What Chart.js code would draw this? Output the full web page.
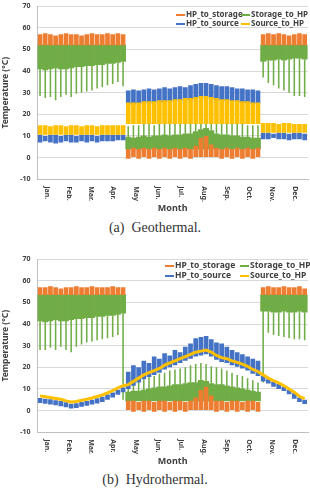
<!DOCTYPE html>
<html>
<head>
<meta charset="utf-8">
<script src="https://cdn.jsdelivr.net/npm/chart.js@4.4.0/dist/chart.umd.min.js"></script>
<style>
  body { margin: 0; background: #fff; width: 310px; height: 489px; overflow: hidden; position: relative; }
  canvas { position: absolute; left: 0; }
  .cap { position: absolute; left: 0; width: 310px; text-align: center; font-family: "Liberation Serif", "DejaVu Serif", serif; font-size: 14px; color: #333; line-height: 16px; }
</style>
</head>
<body>
<canvas id="geo" width="310" height="219" style="top:-5px"></canvas>
<div class="cap" style="top:220px">(a)&nbsp;&nbsp;Geothermal.</div>
<canvas id="hyd" width="310" height="219" style="top:248px"></canvas>
<div class="cap" style="top:472px">(b)&nbsp;&nbsp;Hydrothermal.</div>
<script>
// x axis: months, values are read per week (52 weeks, day = week*7 + 3.5)
var MONTHS = ['Jan.', 'Feb.', 'Mar.', 'Apr.', 'May', 'Jun.', 'Jul.', 'Aug.', 'Sep.', 'Oct.', 'Nov.', 'Dec.'];
var MONTH_MID_DAYS = [15.5, 45, 74.5, 105, 135.5, 166, 196.5, 227.5, 258, 288.5, 319, 349.5];
var Y_TICKS = [-10, 0, 10, 20, 30, 40, 50, 60, 70];
var SERIES = ['HP_to_storage', 'Storage_to_HP', 'HP_to_source', 'Source_to_HP'];
var COLORS = ['#ED7D31', '#70AD47', '#4472C4', '#FFC000'];

// weeks 0-16 heating, 17-42 cooling, 43-51 heating
// (a) Geothermal
var geoStorageHi = [57, 57.5, 57, 56.5, 57, 57.5, 57, 57, 56.5, 57, 57.5, 57, 57, 57.5, 57, 57.5, 57,
  4, 4.5, 4, 4.5, 4, 4.5, 4, 4.5, 4, 4.5, 4, 4.5, 4, 5.5, 9, 10, 6, 4.5, 4, 4.5, 4, 4.5, 4, 4.5, 4, 4.5,
  57, 57.5, 57, 57.5, 57, 56.5, 57, 57.5, 57];
var geoStorageLo = [52, 52, 52, 52, 52, 52, 52, 52, 52, 52, 52, 52, 52, 52, 52, 52, 52,
  -0.5, 0, -0.5, 0, -0.5, 0, -0.5, 0, -0.5, 0, -0.5, 0, -0.5, 0, 0, 0, 0, 0, -0.5, 0, -0.5, 0, -0.5, 0, -0.5, 0,
  52, 52, 52, 52, 52, 52, 52, 52, 52];
var geoReturnHi = [52, 52, 52, 52, 52, 52, 52, 52, 52, 52, 52, 52, 52, 52, 52, 52, 52,
  9.5, 9, 9.5, 10, 9.5, 10, 10, 10.5, 10, 10.5, 10.5, 11, 11, 12, 13, 13.5, 12.5, 11, 10.5, 10.5, 10, 10, 9.5, 9.5, 9, 9,
  52, 52, 52, 52, 52, 52, 52, 52, 52];
var geoReturnLo = [41, 40.5, 41, 41.5, 41, 41, 41.5, 42, 42, 42.5, 42.5, 43, 43, 43.5, 43.5, 44, 44.5,
  4, 4, 4, 4, 4, 4, 4, 4, 4, 4, 4, 4, 4, 4, 4, 4, 4, 4, 4, 4, 4, 4, 4, 4, 4, 4,
  44.5, 45, 45, 45.5, 45, 45.5, 46, 46, 45.5];
// weekly dips (heating) / peaks (cooling) of Storage_to_HP
var geoReturnSpike = [28.5, 27.5, 28, 26.5, 28, 29, 28, 29.5, 30, 30.5, 31, 32, 32.5, 33.5, 34, 35, 33,
  14.5, 15, 15, 15.5, 15.5, 15, 15.5, 16, 15.5, 16, 16, 16, 16.5, 16.5, 17, 17, 16.5, 16, 16, 15.5, 16, 15.5, 15.5, 15, 15, 15,
  37, 34.5, 33.5, 32, 31, 30, 28.5, 28.5, 28];
var geoSourceOutHi = [10.5, 10, 10.5, 10.5, 10, 10.5, 10.5, 10, 10.5, 10.5, 10.5, 10, 10.5, 10.5, 10.5, 10.5, 10.5,
  31, 31.5, 31, 31.5, 32, 31.5, 32, 32.5, 32, 32.5, 33, 32.5, 33.5, 34, 34.5, 34.5, 34, 33.5, 33, 33, 32.5, 32, 32, 31.5, 31.5, 31,
  11.5, 11.5, 11, 11.5, 11.5, 11, 11.5, 11.5, 11];
var geoSourceOutLo = [7, 7.5, 7, 6.5, 7, 7.5, 7, 7, 7.5, 7, 7.5, 7, 7.5, 7.5, 7.5, 8, 8,
  24.5, 24.5, 25, 25, 25, 25.5, 25.5, 25.5, 26, 26, 26, 26.5, 26.5, 27, 27.5, 27.5, 27, 26.5, 26.5, 26, 26, 25.5, 25.5, 25, 25, 24.5,
  8.5, 8.5, 9, 8.5, 8.5, 8, 8.5, 8.5, 8];
var geoSourceInHi = [15, 15, 14.5, 15, 15, 14.5, 15, 15, 14.5, 15, 15, 14.5, 15, 15, 15, 15, 15,
  25.5, 25.5, 25.5, 26, 26, 26, 26.5, 26.5, 26.5, 27, 27, 27.5, 27.5, 28, 28.5, 28.5, 28, 27.5, 27, 27, 26.5, 26.5, 26, 26, 25.5, 25.5,
  16, 16, 16, 15.5, 16, 16, 15.5, 15.5, 15.5];
var geoSourceInLo = [10.5, 10.5, 10.5, 10.5, 10.5, 10.5, 10.5, 10.5, 10.5, 10.5, 10.5, 10.5, 10.5, 10.5, 10.5, 10.5, 10.5,
  15.5, 15.5, 15.5, 15.5, 15.5, 15.5, 15.5, 15.5, 15.5, 15.5, 15.5, 15.5, 15.5, 15.5, 15.5, 15.5, 15.5, 15.5, 15.5, 15.5, 15.5, 15.5, 15.5, 15.5, 15.5, 15.5,
  11.5, 11.5, 11.5, 11.5, 11.5, 11.5, 11.5, 11.5, 11.5];

// (b) Hydrothermal
var hydStorageHi = [57, 57, 57.5, 57, 56.5, 57, 57, 57.5, 57, 57, 57.5, 57, 57, 57, 57.5, 57, 57,
  4.5, 4.5, 4, 4.5, 4.5, 4, 4.5, 4.5, 4, 4.5, 4.5, 4, 4.5, 6, 9.5, 11, 7, 4.5, 4.5, 4, 4.5, 4.5, 4, 4.5, 4.5, 4,
  57, 57.5, 57, 57, 57.5, 57, 57, 57.5, 56.5];
var hydStorageLo = [53.5, 53.5, 53.5, 53.5, 53.5, 53.5, 53.5, 53.5, 53.5, 53.5, 53.5, 53.5, 53.5, 53.5, 53.5, 53.5, 53.5,
  0, -0.5, 0, -0.5, 0, -0.5, 0, -0.5, 0, -0.5, 0, -0.5, 0, 0, 0, 0, 0, -0.5, 0, -0.5, 0, -0.5, 0, -0.5, 0, -0.5,
  53.5, 53.5, 53.5, 53.5, 53.5, 53.5, 53.5, 53.5, 53.5];
var hydReturnHi = [53.5, 53.5, 53.5, 53.5, 53.5, 53.5, 53.5, 53.5, 53.5, 53.5, 53.5, 53.5, 53.5, 53.5, 53.5, 53.5, 53.5,
  8.5, 9, 9, 9.5, 10, 10.5, 11, 11, 11.5, 12, 12, 12.5, 13, 13, 14, 13.5, 12.5, 12, 12, 11.5, 11, 10.5, 10, 9.5, 9, 8.5,
  53.5, 53.5, 53.5, 53.5, 53.5, 53.5, 53.5, 53.5, 53.5];
var hydReturnLo = [41.5, 41, 41.5, 42, 41.5, 41.5, 42, 42.5, 42.5, 43, 43, 43.5, 43.5, 44, 44, 44.5, 45,
  4.5, 4.5, 4.5, 4.5, 4.5, 4.5, 4.5, 4.5, 4.5, 4.5, 4.5, 4.5, 4.5, 4.5, 4.5, 4.5, 4.5, 4.5, 4.5, 4.5, 4.5, 4.5, 4.5, 4.5, 4.5, 4.5,
  46, 46, 45.5, 45.5, 46, 45.5, 45.5, 46, 45.5];
var hydReturnSpike = [28, 28, 29, 28, 29.5, 28, 27, 29.5, 30.5, 31.5, 32, 32.5, 33, 33.5, 34, 35, 5,
  11, 12.5, 13.5, 14.5, 15.5, 16, 17, 17.5, 18.5, 19, 19.5, 20, 21, 21.5, 22, 21.5, 20.5, 20, 19.5, 18.5, 17.5, 16.5, 16, 15, 14, 13,
  13, 36, 35, 34.5, 34, 33.5, 33, 33, 32.5];
var hydSourceOutHi = [5.8, 5.5, 5.2, 4.8, 4.4, 3.8, 3.2, 3.4, 4, 4.4, 5, 5.7, 6.4, 7.4, 8.4, 9.6, 10.7,
  18, 21, 20, 23, 22, 25, 24, 26.5, 25.5, 28, 27, 29.5, 31, 33.5, 34, 34.5, 33, 31.5, 31, 29.5, 28, 27, 26, 25, 24, 23,
  16, 14.5, 13.3, 12.3, 11, 9.5, 8, 6, 5];
var hydSourceOutLo = [3.5, 3.2, 2.8, 2.5, 2, 1.5, 1, 1.2, 1.8, 2.2, 2.8, 3.3, 4, 5, 6, 7.3, 8.5,
  10, 11.5, 13, 14.5, 15.5, 16.5, 17.5, 19, 20, 21, 22, 23, 24, 25, 25.5, 26, 25, 23.5, 22.5, 22, 21, 20.3, 19.5, 18.5, 17, 16,
  13.5, 12.5, 11, 10, 9, 7.5, 5.5, 4, 3];
var hydSourceIn = [6.8, 6.4, 6, 5.6, 5.2, 4.5, 4, 4.2, 4.8, 5.2, 5.8, 6.5, 7.2, 8.2, 9.2, 10.5, 11.5,
  12, 13.5, 15, 16.5, 17.5, 18.5, 19.5, 21, 22, 23, 24, 25, 26, 27, 27.5, 28, 27, 25.5, 24.5, 24, 23, 22.3, 21.5, 20.5, 19, 18,
  16.5, 15, 13.8, 12.8, 11.5, 10, 8.5, 6.5, 5.5];

var FONT = '"Noto Sans", "DejaVu Sans", sans-serif';
var TEXT = '#404040';

function weekX(i) { return i * 7 + 3.5; }

function bars(color, lo, hi, pct) {
    return {
        type: 'bar',
        data: lo.map(function (v, i) { return { x: weekX(i), y: [v, hi[i]] }; }),
        backgroundColor: color,
        borderWidth: 0,
        grouped: false,
        barPercentage: pct,
        categoryPercentage: 1
    };
}

function spikes(color, ext, lo, hi, pct) {
    return {
        type: 'bar',
        data: ext.map(function (v, i) {
            return { x: weekX(i), y: v < lo[i] ? [v, lo[i]] : [hi[i], v] };
        }),
        backgroundColor: color,
        borderWidth: 0,
        grouped: false,
        barPercentage: pct,
        categoryPercentage: 1
    };
}

function monthLabels() {
    return {
        id: 'monthLabels',
        afterDraw: function (chart) {
            var x = chart.scales.x;
            var ctx = chart.ctx;
            ctx.save();
            ctx.font = 'bold 7px ' + FONT;
            ctx.fillStyle = TEXT;
            ctx.textAlign = 'left';
            ctx.textBaseline = 'middle';
            MONTH_MID_DAYS.forEach(function (d, i) {
                ctx.save();
                ctx.translate(x.getPixelForValue(d) - 2, chart.chartArea.bottom + 7);
                ctx.rotate(Math.PI / 2);
                ctx.fillText(MONTHS[i], 0, 0);
                ctx.restore();
            });
            ctx.restore();
        }
    };
}

// 2 x 2 legend in the upper right of the plot
function cornerLegend(cols, rows, size) {
    var order = [0, 1, 2, 3];
    return {
        id: 'cornerLegend',
        afterDraw: function (chart) {
            var ctx = chart.ctx;
            ctx.save();
            ctx.font = 'bold ' + size + 'px ' + FONT;
            ctx.fillStyle = TEXT;
            ctx.textBaseline = 'middle';
            ctx.textAlign = 'left';
            order.forEach(function (s, k) {
                var lx = cols[k % 2], ly = rows[Math.floor(k / 2)];
                ctx.strokeStyle = COLORS[s];
                ctx.lineWidth = 2;
                ctx.beginPath();
                ctx.moveTo(lx, ly);
                ctx.lineTo(lx + 9, ly);
                ctx.stroke();
                ctx.fillText(SERIES[s], lx + 10, ly);
            });
            ctx.restore();
        }
    };
}

function makeOptions() {
    return {
        responsive: false,
        animation: false,
        devicePixelRatio: 1,
        layout: { padding: { top: 3, right: 2, left: 0, bottom: 0 } },
        plugins: { legend: { display: false }, tooltip: { enabled: false } },
        scales: {
            x: {
                type: 'linear',
                min: 0,
                max: 365,
                offset: false,
                grid: { display: false },
                border: { color: '#bfbfbf' },
                ticks: { display: false },
                title: {
                    display: true,
                    text: 'Month',
                    color: TEXT,
                    font: { family: FONT, size: 9, weight: 'bold' },
                    padding: { top: 16, bottom: 0 }
                }
            },
            y: {
                min: -10,
                max: 70,
                afterBuildTicks: function (scale) {
                    scale.ticks = Y_TICKS.map(function (v) { return { value: v }; });
                },
                grid: { color: '#d9d9d9', drawTicks: false },
                border: { color: '#bfbfbf' },
                ticks: {
                    padding: 7,
                    color: TEXT,
                    font: { family: FONT, size: 7, weight: 'bold' }
                },
                title: {
                    display: true,
                    text: 'Temperature (°C)',
                    color: TEXT,
                    font: { family: FONT, size: 8.5, weight: 'bold' },
                    padding: { top: 0, bottom: 3 }
                }
            }
        }
    };
}

// draw order: first dataset ends on top
new Chart(document.getElementById('geo'), {
    type: 'bar',
    data: {
        datasets: [
            bars(COLORS[0], geoStorageLo, geoStorageHi, 0.9),
            bars(COLORS[3], geoSourceInLo, geoSourceInHi, 0.9),
            bars(COLORS[2], geoSourceOutLo, geoSourceOutHi, 0.9),
            spikes(COLORS[1], geoReturnSpike, geoReturnLo, geoReturnHi, 0.3),
            bars(COLORS[1], geoReturnLo, geoReturnHi, 1)
        ]
    },
    options: makeOptions(),
    plugins: [monthLabels(), cornerLegend([176, 241], [20, 29], 8)]
});

new Chart(document.getElementById('hyd'), {
    type: 'bar',
    data: {
        datasets: [
            bars(COLORS[0], hydStorageLo, hydStorageHi, 0.9),
            {
                type: 'line',
                data: hydSourceIn.map(function (v, i) { return { x: weekX(i), y: v }; }),
                borderColor: COLORS[3],
                borderWidth: 3,
                pointRadius: 0
            },
            bars(COLORS[2], hydSourceOutLo, hydSourceOutHi, 0.9),
            spikes(COLORS[1], hydReturnSpike, hydReturnLo, hydReturnHi, 0.3),
            bars(COLORS[1], hydReturnLo, hydReturnHi, 1)
        ]
    },
    options: makeOptions(),
    plugins: [monthLabels(), cornerLegend([165, 240], [18, 28], 8.5)]
});
</script>
</body>
</html>
